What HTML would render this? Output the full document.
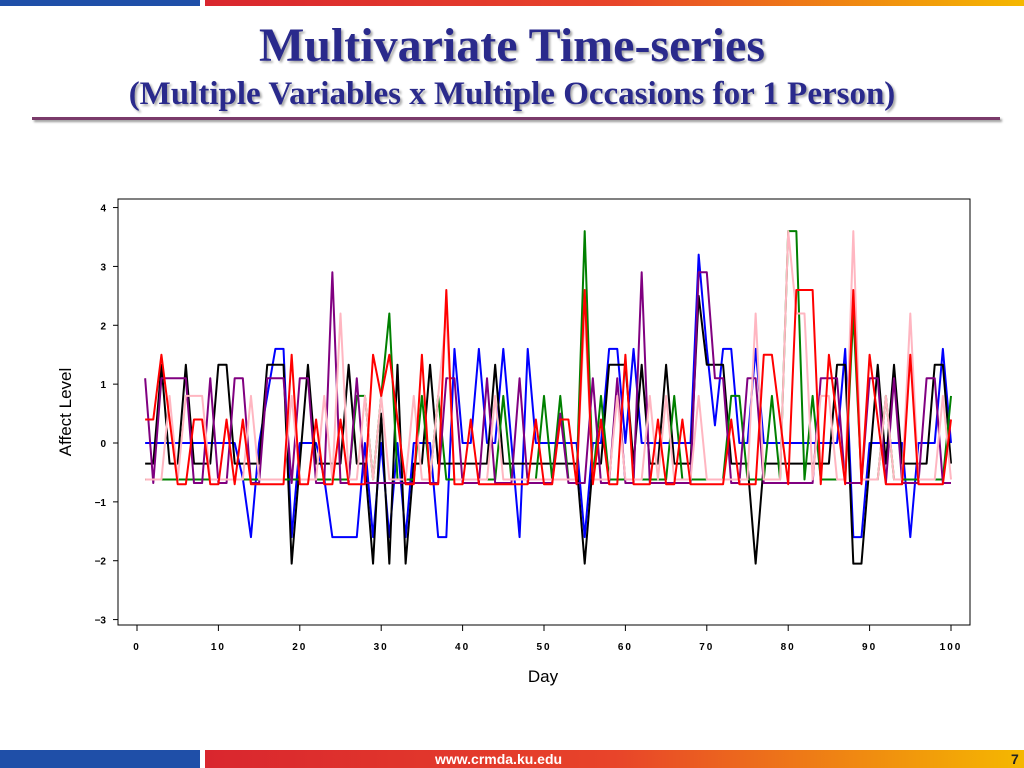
<!DOCTYPE html>
<html><head><meta charset="utf-8"><style>
body{margin:0;width:1024px;height:768px;overflow:hidden;background:#fff;font-family:"Liberation Sans",sans-serif;position:relative}
.t{position:absolute;left:0;width:1024px;text-align:center;font-family:"Liberation Serif",serif;font-weight:bold;color:#2a2a8c;white-space:nowrap}
</style></head><body>
<div style="position:absolute;left:0;top:0;width:200px;height:6px;background:#1f4fa8"></div>
<div style="position:absolute;left:205px;top:0;width:819px;height:6px;background:linear-gradient(90deg,#d9262e,#e8442a 50%,#f5b800)"></div>
<div class="t" style="top:18px;font-size:48px;text-shadow:2px 2px 2px #aaa">Multivariate Time-series</div>
<div class="t" style="top:76px;font-size:33px;text-shadow:2px 2px 2px #aaa">(Multiple Variables x Multiple Occasions for 1 Person)</div>
<div style="position:absolute;left:32px;top:117px;width:968px;height:3px;background:#7a3a6a;box-shadow:2px 2px 2px #999"></div>
<svg id="ch" width="1024" height="768" style="position:absolute;left:0;top:0"></svg>
<div style="position:absolute;left:0;top:750px;width:200px;height:18px;background:#1f4fa8"></div>
<div style="position:absolute;left:205px;top:750px;width:819px;height:18px;background:linear-gradient(90deg,#d9262e,#e8442a 50%,#f5b800)"></div>
<div style="position:absolute;left:435px;top:751px;color:#fff;font-weight:bold;font-size:14px">www.crmda.ku.edu</div>
<div style="position:absolute;left:1011px;top:751px;color:#222;font-weight:bold;font-size:14px">7</div>
<script>
const days=[];for(let i=1;i<=100;i++)days.push(i);
const yTicks=[4,3,2,1,0,-1,-2,-3];
const xTicks=[0,10,20,30,40,50,60,70,80,90,100];
function fill(base,pts){const a=[];for(let i=1;i<=100;i++)a.push(pts[i]!==undefined?pts[i]:base);return a;}
const blue=fill(0,{13:-0.6,14:-1.6,16:0.8,17:1.6,18:1.6,19:-1.6,23:-0.6,24:-1.6,25:-1.6,26:-1.6,27:-1.6,29:-1.6,31:-1.6,33:-1.6,37:-1.6,38:-1.6,39:1.6,42:1.6,45:1.6,47:-1.6,48:1.6,55:-1.6,58:1.6,59:1.6,61:1.6,69:3.2,70:1.6,71:0.3,72:1.6,73:1.6,76:1.6,87:1.6,88:-1.6,89:-1.6,95:-1.6,99:1.6});
const black=fill(-0.35,{3:1.33,5:-0.35,6:1.33,10:1.33,11:1.33,16:1.33,17:1.33,18:1.33,19:-2.05,21:1.33,26:1.33,29:-2.05,30:0.5,31:-2.05,32:1.33,33:-2.05,36:1.33,44:1.33,55:-2.05,58:1.33,59:1.33,60:1.33,62:1.33,65:1.33,69:2.5,70:1.33,71:1.33,72:1.33,76:-2.05,86:1.33,87:1.33,88:-2.05,89:-2.05,91:1.33,93:1.33,98:1.33,99:1.33});
const green=fill(-0.62,{27:0.8,28:0.8,30:0.8,31:2.2,35:0.8,37:0.8,45:0.8,50:0.8,52:0.8,55:3.6,57:0.8,66:0.8,73:0.8,74:0.8,78:0.8,80:3.6,81:3.6,83:0.8,88:2.2,92:0.8,100:0.8});
const red=fill(-0.7,{1:0.4,2:0.4,3:1.5,4:0.4,7:0.4,8:0.4,11:0.4,13:0.4,19:1.5,22:0.4,25:0.4,29:1.5,30:0.8,31:1.5,32:0.4,35:1.5,38:2.6,41:0.4,49:0.4,52:0.4,53:0.4,55:2.6,57:0.4,60:1.5,64:0.4,67:0.4,73:0.4,77:1.5,78:1.5,79:0.4,81:2.6,82:2.6,83:2.6,85:1.5,86:0.4,88:2.6,90:1.5,91:0.4,95:1.5,100:0.4});
const purple=fill(-0.68,{1:1.1,3:1.1,4:1.1,5:1.1,6:1.1,9:1.1,12:1.1,13:1.1,16:1.1,17:1.1,18:1.1,20:1.1,21:1.1,24:2.9,27:1.1,38:1.1,39:1.1,43:1.1,47:1.1,52:0.5,56:1.1,59:1.1,62:2.9,69:2.9,70:2.9,71:1.1,72:1.1,75:1.1,76:1.1,84:1.1,85:1.1,86:1.1,90:1.1,91:1.1,93:1.1,97:1.1,98:1.1});
const pink=fill(-0.62,{4:0.8,6:0.8,7:0.8,8:0.8,14:0.8,19:0.8,23:0.8,25:2.2,28:0.8,30:0.8,34:0.8,37:0.8,38:2.2,44:0.8,55:2.2,59:0.8,63:0.8,65:0.8,69:0.8,76:2.2,80:3.6,81:2.2,82:2.2,84:0.8,85:0.8,88:3.6,92:0.8,95:2.2,99:0.8});
const series=[["series-blue",blue,"#0000ff"],["series-black",black,"#000"],["series-green",green,"#008000"],["series-purple",purple,"#800080"],["series-pink",pink,"#ffb6c1"],["series-red",red,"#ff0000"]];
const X=d=>137+d*8.14, Y=v=>443-v*58.86;
const ns="http://www.w3.org/2000/svg",svg=document.getElementById('ch');
function mk(t,a,p){const e=document.createElementNS(ns,t);for(const k in a)e.setAttribute(k,a[k]);(p||svg).appendChild(e);return e;}
const fr=mk('rect',{x:118,y:199,width:852,height:426,fill:'none',stroke:'#000','stroke-width':1});

yTicks.forEach(v=>{mk('line',{x1:113,x2:118,y1:Y(v),y2:Y(v),stroke:'#000'});
const t=mk('text',{x:106,y:Y(v)+4,'text-anchor':'end','font-size':10,'font-weight':'bold'});t.textContent=v<0?'\u2212'+(-v):v;
});
xTicks.forEach(v=>{mk('line',{x1:X(v),x2:X(v),y1:625,y2:631,stroke:'#000'});
const t=mk('text',{x:X(v),y:650,'text-anchor':'middle','font-size':10,'font-weight':'bold','letter-spacing':'2'});t.textContent=v;
});
const xt=mk('text',{x:543,y:682,'text-anchor':'middle','font-size':17});xt.textContent='Day';

const yt=mk('text',{x:0,y:0,'text-anchor':'middle','font-size':17,transform:'translate(71,412) rotate(-90)'});yt.textContent='Affect Level';

series.forEach(([n,arr,c])=>{const p=mk('polyline',{points:arr.map((v,i)=>X(days[i])+','+Y(v)).join(' '),fill:'none',stroke:c,'stroke-width':2,'stroke-linejoin':'round'});
});
</script>
</body></html>
